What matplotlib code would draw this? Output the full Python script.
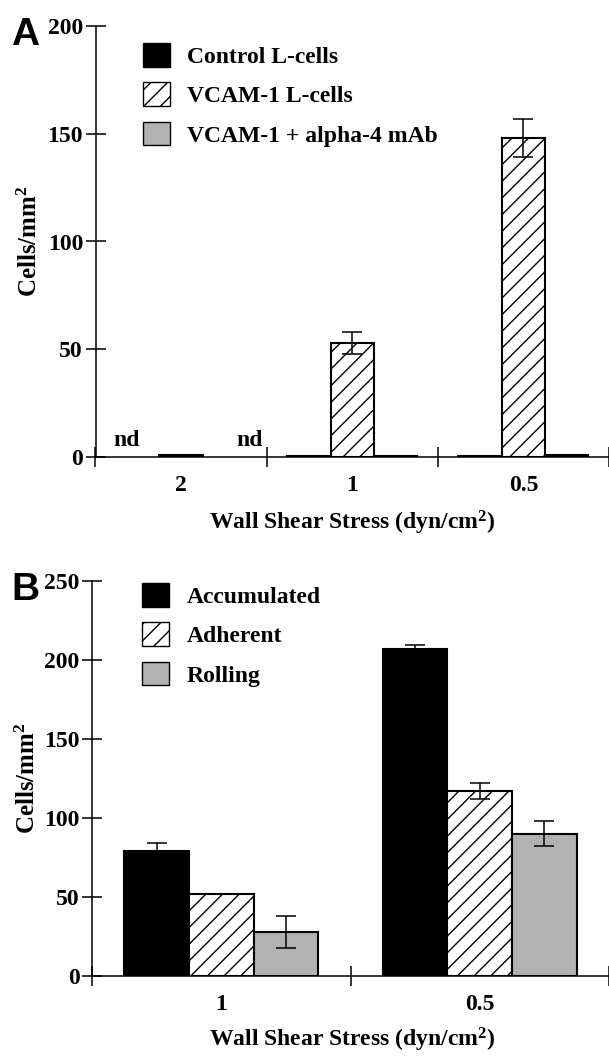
import numpy as np
import matplotlib
matplotlib.use("Agg")
import matplotlib.pyplot as plt
from matplotlib.patches import Patch

# ---------------- data ----------------
shear_A = ["2", "1", "0.5"]
control_A = [np.nan, 0.5, 0.5]
vcam_A = [1.0, 53, 148]
vcam_err_A = [0, 5, 9]
alpha4_A = [np.nan, 0.5, 0.8]
labels_A = ["Control L-cells", "VCAM-1 L-cells", "VCAM-1 + alpha-4 mAb"]

shear_B = ["1", "0.5"]
accum_B = [79, 207]
accum_err_B = [5, 2.5]
adher_B = [52, 117]
adher_err_B = [0, 5]
roll_B = [28, 90]
roll_err_B = [10, 8]
labels_B = ["Accumulated", "Adherent", "Rolling"]

GRAY = "#b2b2b2"
W, H = 609, 1057
DPI = 100

plt.rcParams["font.family"] = ["Liberation Serif", "DejaVu Serif"]
plt.rcParams["font.weight"] = "bold"
plt.rcParams["mathtext.fontset"] = "custom"
plt.rcParams["mathtext.rm"] = "Liberation Serif:bold"
plt.rcParams["mathtext.it"] = "Liberation Serif:bold"
plt.rcParams["mathtext.bf"] = "Liberation Serif:bold"
plt.rcParams["hatch.linewidth"] = 1.0
plt.rcParams["hatch.color"] = "black"

FS = 17

fig = plt.figure(figsize=(W / DPI, H / DPI), dpi=DPI)


def px(x0, y0, x1, y1):
    return [x0 / W, 1 - y1 / H, (x1 - x0) / W, (y1 - y0) / H]


def style_axes(ax, ncat, ymax, ystep):
    for s in ["top", "right"]:
        ax.spines[s].set_visible(False)
    for s in ["left", "bottom"]:
        ax.spines[s].set_linewidth(1.1)
    ax.set_ylim(0, ymax)
    ax.set_yticks(np.arange(0, ymax + 1, ystep))
    ax.tick_params(axis="y", direction="inout", length=14, width=1.1,
                   labelsize=FS, pad=2)
    ax.set_xticks(np.arange(ncat + 1) - 0.5)
    ax.set_xticklabels([])
    ax.tick_params(axis="x", which="major", direction="inout", length=15,
                   width=1.1)
    ax.set_xticks(np.arange(ncat), minor=True)
    ax.tick_params(axis="x", which="minor", length=0, labelsize=FS, pad=13)
    for lab in ax.get_yticklabels():
        lab.set_fontweight("bold")


bw = 0.253
ekw = dict(ecolor="black", elinewidth=1.1, capsize=7, capthick=1.1)

# ---------------- Panel A ----------------
axA = fig.add_axes(px(95.5, 26, 609, 457))
x = np.arange(len(shear_A))
axA.bar(x - bw, control_A, bw, color="black", edgecolor="black", lw=1.5)
axA.bar(x, vcam_A, bw, color="white", edgecolor="black", lw=1.5, hatch="//")
axA.errorbar(x[1:], vcam_A[1:], yerr=vcam_err_A[1:], fmt="none", **ekw)
axA.bar(x + bw, alpha4_A, bw, color=GRAY, edgecolor="black", lw=1.5)
axA.set_xlim(-0.5, 2.454)
style_axes(axA, 3, 200, 50)
axA.set_xticklabels(shear_A, minor=True, fontweight="bold")
axA.text(-0.32, 3, "nd", ha="center", va="bottom", fontsize=FS)
axA.text(0.40, 3, "nd", ha="center", va="bottom", fontsize=FS)
handlesA = [Patch(facecolor="black", edgecolor="black"),
            Patch(facecolor="white", edgecolor="black", hatch="//"),
            Patch(facecolor=GRAY, edgecolor="black")]
fig.legend(handlesA, labels_A, loc="upper left",
           bbox_to_anchor=(143 / W, 1 - 43 / H), frameon=False,
           fontsize=FS, borderpad=0, borderaxespad=0, handlelength=1.16,
           handleheight=1.16, handletextpad=0.72, labelspacing=0.62)
fig.text(30 / W, 1 - 241 / H, r"Cells/mm$^2$", rotation=90, ha="center",
         va="center", fontsize=FS + 1)
fig.text(352 / W, 1 - 523 / H, r"Wall Shear Stress (dyn/cm$^2$)",
         ha="center", va="center", fontsize=FS)
fig.text(11 / W, 1 - 17 / H, "A", family="Liberation Sans", weight="bold",
         fontsize=28, ha="left", va="top")

# ---------------- Panel B ----------------
axB = fig.add_axes(px(92, 581, 609, 976))
xb = np.arange(len(shear_B))
bwb = 0.25
axB.bar(xb - bwb, accum_B, bwb, color="black", edgecolor="black", lw=1.5)
axB.errorbar(xb - bwb, accum_B, yerr=accum_err_B, fmt="none", **ekw)
axB.bar(xb, adher_B, bwb, color="white", edgecolor="black", lw=1.5,
        hatch="//")
axB.errorbar(xb, adher_B, yerr=adher_err_B, fmt="none", **ekw)
axB.bar(xb + bwb, roll_B, bwb, color=GRAY, edgecolor="black", lw=1.5)
axB.errorbar(xb + bwb, roll_B, yerr=roll_err_B, fmt="none", **ekw)
axB.set_xlim(-0.5, 1.48)
style_axes(axB, 2, 250, 50)
axB.set_xticklabels(shear_B, minor=True, fontweight="bold")
handlesB = [Patch(facecolor="black", edgecolor="black"),
            Patch(facecolor="white", edgecolor="black", hatch="//"),
            Patch(facecolor=GRAY, edgecolor="black")]
fig.legend(handlesB, labels_B, loc="upper left",
           bbox_to_anchor=(142 / W, 1 - 583 / H), frameon=False,
           fontsize=FS, borderpad=0, borderaxespad=0, handlelength=1.16,
           handleheight=1.16, handletextpad=0.72, labelspacing=0.62)
fig.text(28 / W, 1 - 778 / H, r"Cells/mm$^2$", rotation=90, ha="center",
         va="center", fontsize=FS + 1)
fig.text(352 / W, 1 - 1040 / H, r"Wall Shear Stress (dyn/cm$^2$)",
         ha="center", va="center", fontsize=FS)
fig.text(11 / W, 1 - 572 / H, "B", family="Liberation Sans", weight="bold",
         fontsize=28, ha="left", va="top")

fig.savefig("out.png", dpi=DPI)
